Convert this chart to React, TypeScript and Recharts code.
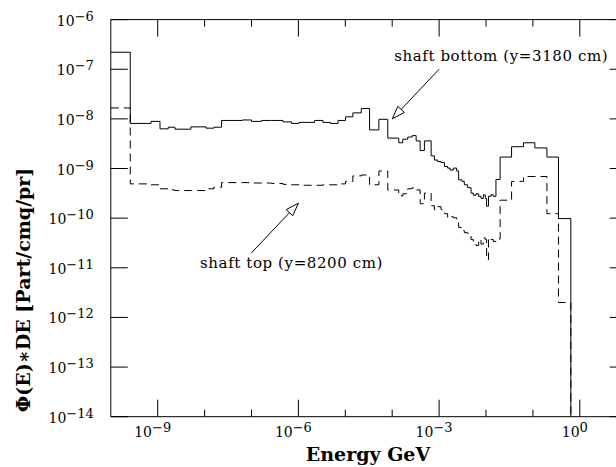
import { LineChart, Line, XAxis, YAxis, ReferenceLine, ReferenceDot } from "recharts";

// lower bin edges in GeV, last entry is the upper edge of the last bin
const binEdges = [
  1e-10, 2.6e-10, 7.2e-10, 1.12e-9, 1.68e-9, 2.33e-9, 5.1e-9, 1.07e-8, 1.58e-8, 2.3e-8,
  6.4e-8, 1.0e-7, 1.63e-7, 2.67e-7, 4.7e-7, 7.1e-7, 1.03e-6, 2.22e-6, 3.33e-6, 4.8e-6,
  7.0e-6, 1.01e-5, 1.45e-5, 2.19e-5, 3.29e-5, 5.2e-5, 8.05e-5, 1.38e-4, 1.68e-4, 2.15e-4,
  2.67e-4, 3.24e-4, 3.95e-4, 4.86e-4, 6.76e-4, 7.94e-4, 9.33e-4, 1.1e-3, 1.3e-3, 1.52e-3,
  1.71e-3, 2.01e-3, 2.37e-3, 2.61e-3, 3.08e-3, 3.45e-3, 4.06e-3, 4.8e-3, 5.37e-3, 6.12e-3,
  6.97e-3, 7.83e-3, 8.77e-3, 9.66e-3, 1.03e-2, 1.13e-2, 1.28e-2, 1.43e-2, 1.63e-2, 2.0e-2,
  3.51e-2, 6.3e-2, 0.11, 0.199, 0.351, 0.644,
];

// shaft bottom (y=3180 cm), solid
const bottomFlux = [
  2.2e-7, 8.1e-9, 8.9e-9, 6.3e-9, 6.8e-9, 6.2e-9, 6.9e-9, 6.5e-9, 6.8e-9, 9.3e-9,
  9.5e-9, 8.9e-9, 9.3e-9, 9.3e-9, 8.7e-9, 8.1e-9, 8.5e-9, 9.3e-9, 8.5e-9, 8.1e-9,
  9.3e-9, 1.1e-8, 1.32e-8, 1.62e-8, 6.0e-9, 9.8e-9, 4.1e-9, 3.3e-9, 3.9e-9, 4.3e-9,
  4.6e-9, 3.6e-9, 2.3e-9, 3.6e-9, 1.8e-9, 1.48e-9, 1.38e-9, 1.32e-9, 1.1e-9, 1.02e-9,
  9.3e-10, 1.02e-9, 8.9e-10, 5.9e-10, 5.5e-10, 4.7e-10, 4.1e-10, 3.2e-10, 2.9e-10, 3.1e-10,
  2.75e-10, 2.5e-10, 2.95e-10, 2.5e-10, 1.74e-10, 2.75e-10, 2.95e-10, 2.75e-10, 6.0e-10, 1.7e-9,
  2.75e-9, 3.3e-9, 2.6e-9, 1.7e-9, 9.8e-11,
];

// shaft top (y=8200 cm), dashed
const topFlux = [
  1.66e-8, 4.9e-10, 4.7e-10, 3.9e-10, 3.7e-10, 3.6e-10, 3.6e-10, 3.9e-10, 4.2e-10, 5.2e-10,
  5.2e-10, 5.1e-10, 5.1e-10, 5.0e-10, 4.8e-10, 4.7e-10, 4.6e-10, 4.6e-10, 4.7e-10, 4.7e-10,
  4.9e-10, 5.5e-10, 7.1e-10, 7.4e-10, 4.7e-10, 8.9e-10, 3.7e-10, 2.8e-10, 3.1e-10, 3.9e-10,
  4.1e-10, 3.7e-10, 1.95e-10, 3.2e-10, 1.78e-10, 1.48e-10, 1.7e-10, 1.48e-10, 1.23e-10, 1.02e-10,
  1.07e-10, 1.02e-10, 8.5e-11, 6.5e-11, 5.6e-11, 5.1e-11, 4.9e-11, 3.7e-11, 3.4e-11, 2.8e-11,
  3.7e-11, 3.0e-11, 4.0e-11, 3.7e-11, 1.45e-11, 4.0e-11, 3.7e-11, 3.4e-11, 3.8e-11, 2.3e-10,
  5.5e-10, 6.9e-10, 6.9e-10, 1.23e-10, 2.0e-12,
];

// value used after the last bin so the histogram falls off the bottom of the frame
const FLOOR = 1e-16;

const xTicks = [1e-10, 1e-9, 1e-8, 1e-7, 1e-6, 1e-5, 1e-4, 1e-3, 1e-2, 1e-1, 1, 10];
const yTicks = [1e-14, 1e-13, 1e-12, 1e-11, 1e-10, 1e-9, 1e-8, 1e-7, 1e-6];

const annotations = [
  { text: "shaft bottom (y=3180 cm)", at: [1.1e-4, 1.45e-7], tail: [1e-3, 1e-7], tip: [1e-4, 1e-8] },
  { text: "shaft top (y=8200 cm)", at: [8e-9, 1e-11], tail: [1e-7, 2e-11], tip: [1e-6, 2e-10] },
];

const data = binEdges.map((e, i) => ({
  e,
  bottom: i < bottomFlux.length ? bottomFlux[i] : FLOOR,
  top: i < topFlux.length ? topFlux[i] : FLOOR,
}));

const TICK_FONT = "'DejaVu Serif', serif";
const TEXT_FONT = "'DejaVu Serif', serif";

const sup = (n: number) => (n < 0 ? "\u2212" + Math.abs(n) : String(n));

function xTick(props: any, side: "bottom" | "top") {
  const { x, y, payload } = props;
  const exp = Math.round(Math.log10(payload.value));
  if (exp === -10 || exp === 1) return <g />;
  const major = exp % 3 === 0;
  const len = major ? 17 : 7;
  const dir = side === "bottom" ? -1 : 1;
  return (
    <g>
      <line x1={x} y1={y} x2={x} y2={y + dir * len} stroke="#000" strokeWidth={1} />
      {side === "bottom" && major && (
        <text x={x - 5} y={y + 20} textAnchor="middle" fontFamily={TICK_FONT} fontSize={14} fill="#000">
          10<tspan dy={-5} fontSize={13}>{sup(exp)}</tspan>
        </text>
      )}
    </g>
  );
}

function yTick(props: any, side: "left" | "right") {
  const { x, y, payload } = props;
  const exp = Math.round(Math.log10(payload.value));
  const dir = side === "left" ? 1 : -1;
  return (
    <g>
      <line x1={x} y1={y} x2={x + dir * 17} y2={y} stroke="#000" strokeWidth={1} />
      {side === "left" && (
        <text x={x - 17} y={y + 6} textAnchor="end" fontFamily={TICK_FONT} fontSize={14} fill="#000">
          10<tspan dy={-5} fontSize={13}>{sup(exp)}</tspan>
        </text>
      )}
    </g>
  );
}

function arrowShape(props: any) {
  const { x1, y1, x2, y2 } = props;
  const dx = x2 - x1;
  const dy = y2 - y1;
  const d = Math.hypot(dx, dy) || 1;
  const ux = dx / d;
  const uy = dy / d;
  const L = 13;
  const W = 4.5;
  const bx = x2 - ux * L;
  const by = y2 - uy * L;
  const pts = `${x2},${y2} ${bx - uy * W},${by + ux * W} ${bx + uy * W},${by - ux * W}`;
  return (
    <g>
      <line x1={x1} y1={y1} x2={bx} y2={by} stroke="#000" strokeWidth={1} />
      <polygon points={pts} fill="#fff" stroke="#000" strokeWidth={1} />
    </g>
  );
}

function labelShape(text: string) {
  return (props: any) => (
    <text x={props.cx} y={props.cy} fontFamily={TEXT_FONT} fontSize={15} letterSpacing={0.6} fill="#000">
      {text}
    </text>
  );
}

const axisLine = { stroke: "#000", strokeWidth: 1 };

export default function App() {
  return (
    <div style={{ position: "absolute", left: 0, top: 0, width: 616, height: 467, overflow: "hidden", background: "#fff" }}>
      <LineChart width={660} height={467} data={data} margin={{ top: 9.6, right: 13.3, bottom: 20.3, left: 50.8 }}>
        <XAxis
          xAxisId="b"
          dataKey="e"
          type="number"
          scale="log"
          domain={[1e-10, 10]}
          ticks={xTicks}
          interval={0}
          height={30}
          tickSize={0}
          tickMargin={0}
          tickLine={false}
          axisLine={axisLine}
          tick={(p: any) => xTick(p, "bottom")}
          allowDataOverflow
        />
        <XAxis
          xAxisId="t"
          orientation="top"
          dataKey="e"
          type="number"
          scale="log"
          domain={[1e-10, 10]}
          ticks={xTicks}
          interval={0}
          height={10}
          tickSize={0}
          tickMargin={0}
          tickLine={false}
          axisLine={axisLine}
          tick={(p: any) => xTick(p, "top")}
          allowDataOverflow
        />
        <YAxis
          yAxisId="l"
          type="number"
          scale="log"
          domain={[1e-14, 1e-6]}
          ticks={yTicks}
          interval={0}
          width={60}
          tickSize={0}
          tickMargin={0}
          tickLine={false}
          axisLine={axisLine}
          tick={(p: any) => yTick(p, "left")}
          allowDataOverflow
        />
        <YAxis
          yAxisId="r"
          orientation="right"
          type="number"
          scale="log"
          domain={[1e-14, 1e-6]}
          ticks={yTicks}
          interval={0}
          width={20}
          tickSize={0}
          tickMargin={0}
          tickLine={false}
          axisLine={axisLine}
          tick={(p: any) => yTick(p, "right")}
          allowDataOverflow
        />
        <Line
          xAxisId="b"
          yAxisId="l"
          dataKey="bottom"
          type="stepAfter"
          stroke="#000"
          strokeWidth={1}
          dot={false}
          activeDot={false}
          isAnimationActive={false}
        />
        <Line
          xAxisId="b"
          yAxisId="l"
          dataKey="top"
          type="stepAfter"
          stroke="#000"
          strokeWidth={1}
          strokeDasharray="8 5"
          dot={false}
          activeDot={false}
          isAnimationActive={false}
        />
        {annotations.map((a) => (
          <ReferenceLine
            key={a.text + "-arrow"}
            xAxisId="b"
            yAxisId="l"
            segment={[
              { x: a.tail[0], y: a.tail[1] },
              { x: a.tip[0], y: a.tip[1] },
            ]}
            shape={arrowShape}
          />
        ))}
        {annotations.map((a) => (
          <ReferenceDot
            key={a.text}
            xAxisId="b"
            yAxisId="l"
            x={a.at[0]}
            y={a.at[1]}
            r={0}
            shape={labelShape(a.text)}
          />
        ))}
        <text
          x={368}
          y={461}
          textAnchor="middle"
          fontFamily={TEXT_FONT}
          fontWeight="bold"
          fontSize={19}
          fill="#000"
        >
          Energy GeV
        </text>
        <text
          x={30}
          y={290}
          textAnchor="middle"
          fontFamily={TEXT_FONT}
          fontWeight="bold"
          fontSize={19}
          fill="#000"
          transform="rotate(-90 30 290)"
        >
          Φ(E)∗DE [Part/cmq/pr]
        </text>
      </LineChart>
    </div>
  );
}
